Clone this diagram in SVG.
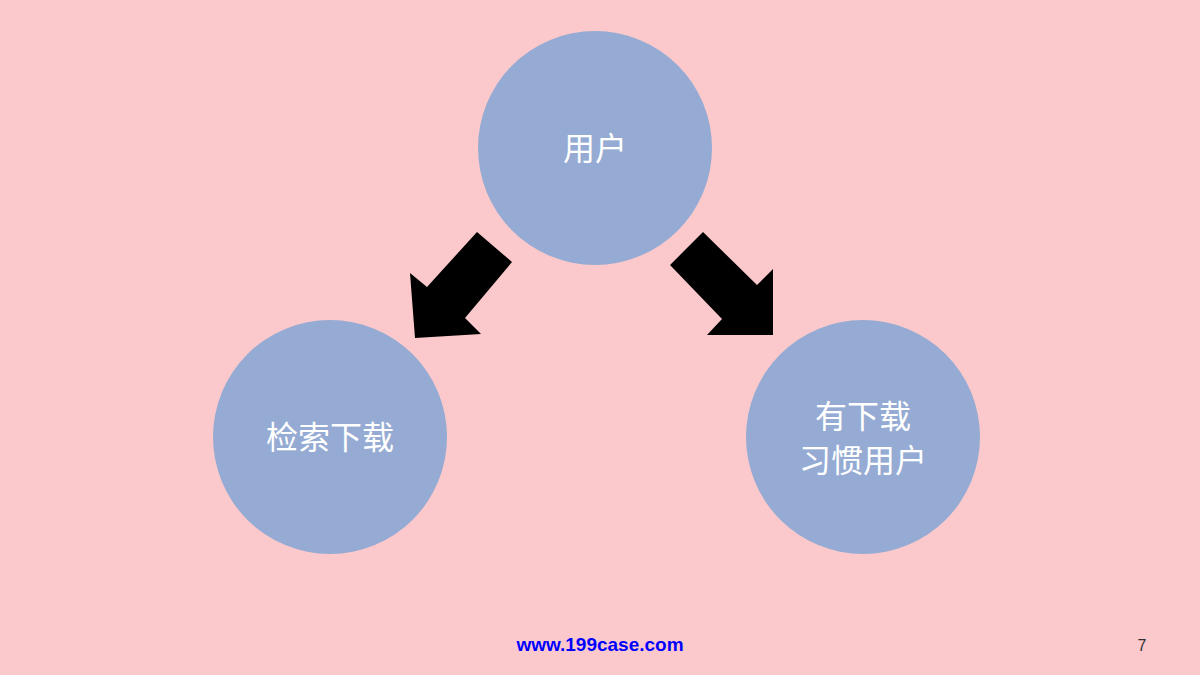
<svg xmlns="http://www.w3.org/2000/svg" width="1200" height="675" viewBox="0 0 1200 675">
<style>
.n{fill:#95abd3}
.t{font-family:"Noto Sans CJK SC",sans-serif;font-size:32px;fill:#fff;text-anchor:middle}
</style>
<rect width="1200" height="675" fill="#fbc9cc"/>
<g id="connectors" fill="#000">
<polygon points="477,232 512,262 465,318 481,334 415,338 410,273 427,287"/>
<polygon points="703,232 757,285 773,269 773,335 707,335 722,319 670,265"/>
</g>
<g id="user"><circle class="n" cx="595" cy="148" r="117"/><text class="t" x="595" y="160">用户</text></g>
<g id="search"><circle class="n" cx="330" cy="437" r="117"/><text class="t" x="330" y="449">检索下载</text></g>
<g id="habit"><circle class="n" cx="863" cy="437" r="117"/><text class="t" x="863" y="428">有下载</text><text class="t" x="863" y="472">习惯用户</text></g>
<text x="600" y="651" font-family="Liberation Sans,sans-serif" font-weight="bold" font-size="19" fill="#0000ff" text-anchor="middle">www.199case.com</text>
<text x="1142" y="651" font-family="Liberation Sans,sans-serif" font-size="16" fill="#333" text-anchor="middle">7</text>
</svg>
